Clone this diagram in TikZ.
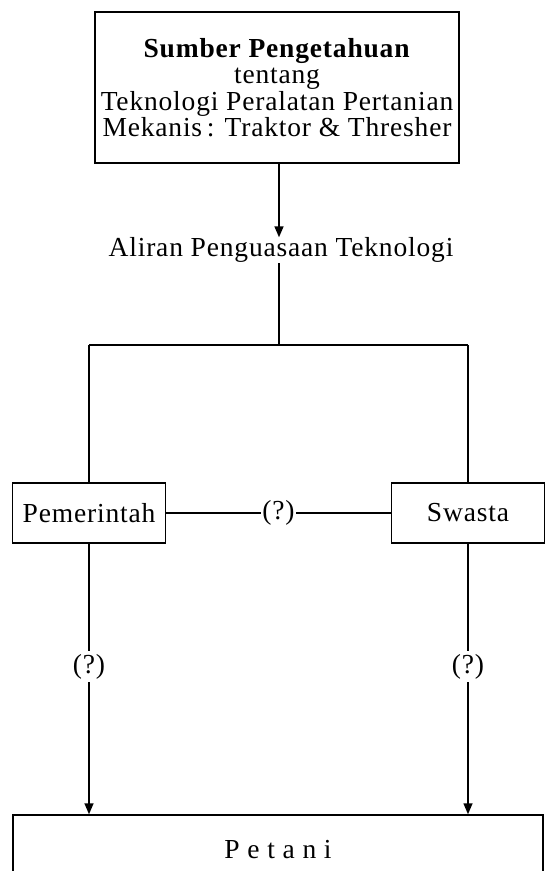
\documentclass[tikz,border=0pt]{standalone}
\usepackage{fontspec}
\setmainfont{Liberation Serif}[LetterSpace=3]
\usetikzlibrary{arrows.meta}
\begin{document}
\begin{tikzpicture}[x=1pt,y=-1pt,
  every node/.style={font=\fontsize{27.5}{26.5}\selectfont, inner sep=0pt},
  box/.style={draw, line width=1.5pt, fill=white},
  ln/.style={line width=1.5pt},
  arr/.style={line width=1.5pt, -{Triangle[length=11pt,width=9pt]}},
  lbl/.style={fill=white, inner xsep=1pt, inner ysep=3pt}]
\clip (0,0) rectangle (548,871);
\fill[white] (0,0) rectangle (548,871);
\node[box, minimum width=364pt, minimum height=151pt, align=center] (src) at (277,87.5)
  {\textbf{Sumber Pengetahuan}\\tentang\\Teknologi Peralatan Pertanian\\Mekanis\,: Traktor \& Thresher};
\node (flow) at (281,250) {Aliran Penguasaan Teknologi};
\node[box, minimum width=153pt, minimum height=60pt] (gov) at (89,513) {Pemerintah};
\node[box, minimum width=153pt, minimum height=60pt] (priv) at (468,513) {Swasta};
\node[box, minimum width=530pt, minimum height=70pt] (farm) at (278,850) {P e t a n i};
\coordinate (j) at (279,345);
\coordinate (jl) at (gov.north |- j);
\coordinate (jr) at (priv.north |- j);
\draw[arr] (src.south -| j) -- (flow.north -| j);
\draw[ln] (j) -- (flow.south -| j);
\draw[ln] (jl) -- (jr);
\draw[ln] (jl) -- (gov.north);
\draw[ln] (jr) -- (priv.north);
\draw[ln] (gov.east) -- node[lbl] {(?)} (priv.west);
\draw[arr] (gov.south) -- node[lbl, pos=0.455] {(?)} (gov.south |- farm.north);
\draw[arr] (priv.south) -- node[lbl, pos=0.455] {(?)} (priv.south |- farm.north);
\end{tikzpicture}
\end{document}
